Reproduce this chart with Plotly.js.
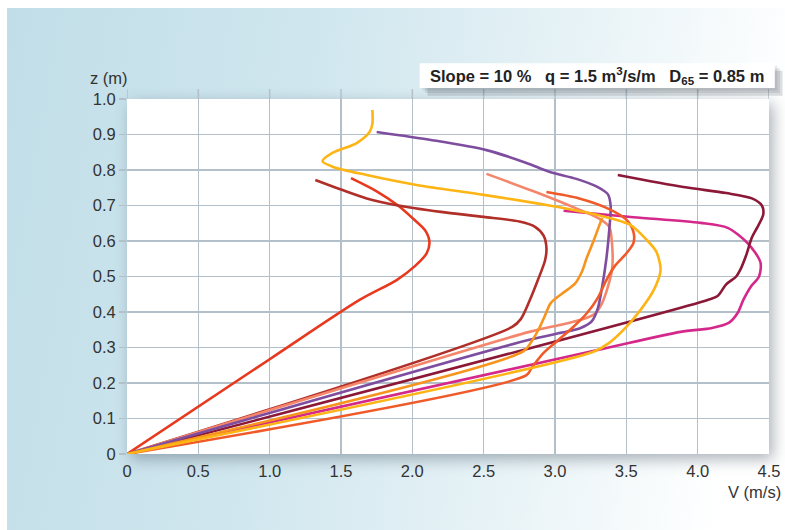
<!DOCTYPE html>
<html>
<head>
<meta charset="utf-8">
<script src="https://cdn.plot.ly/plotly-3.0.1.min.js"></script>
<style>
  html, body { margin:0; padding:0; background:#ffffff; }
  #bg { position:absolute; left:7px; top:8px; width:778px; height:522px;
        background: linear-gradient(100deg, #c1dee8 0%, #cfe6ee 35%, #e6f2f6 65%, #ffffff 92%); }
  #shadow { position:absolute; left:127px; top:99px; width:642px; height:355px;
            background:#ffffff; box-shadow: 4px 5px 14px rgba(70,85,100,0.45); }
  #chart { position:absolute; left:0; top:0; width:785px; height:530px; }
</style>
</head>
<body>
<div id="bg"></div>
<div id="shadow"></div>
<div id="chart"></div>
<script>
// ---- data (V in m/s, z in m) ----
const redV   = [0, 1.0, 1.63, 1.89, 2.02, 2.10, 2.12, 2.09, 2.0, 1.9, 1.75, 1.57];
const redZ   = [0, 0.267, 0.434, 0.49, 0.53, 0.565, 0.597, 0.63, 0.665, 0.70, 0.74, 0.777];

const brownV = [0, 2.70, 2.76, 2.82, 2.88, 2.93, 2.94, 2.92, 2.86, 2.75, 2.5, 2.2, 1.9, 1.68, 1.5, 1.32];
const brownZ = [0, 0.358, 0.38, 0.43, 0.49, 0.545, 0.58, 0.615, 0.64, 0.655, 0.668, 0.682, 0.70, 0.72, 0.745, 0.772];

const salmonV = [0, 2.82, 3.05, 3.2, 3.28, 3.33, 3.37, 3.40, 3.40, 3.38, 3.30, 3.10, 2.85, 2.52];
const salmonZ = [0, 0.344, 0.365, 0.38, 0.395, 0.425, 0.47, 0.52, 0.59, 0.64, 0.665, 0.70, 0.74, 0.789];

const purpleV = [0, 2.82, 3.05, 3.18, 3.26, 3.30, 3.33, 3.36, 3.38, 3.39, 3.37, 3.30, 3.15, 2.96, 2.80, 2.52, 2.14, 1.75];
const purpleZ = [0, 0.322, 0.342, 0.355, 0.375, 0.41, 0.47, 0.55, 0.63, 0.70, 0.732, 0.752, 0.775, 0.795, 0.82, 0.856, 0.884, 0.907];

const orangeV = [0, 2.78, 2.84, 2.89, 2.93, 2.97, 3.05, 3.14, 3.19, 3.22, 3.27, 3.33];
const orangeZ = [0, 0.29, 0.32, 0.355, 0.39, 0.425, 0.452, 0.48, 0.515, 0.55, 0.60, 0.665];

const redOrangeV = [0, 2.80, 2.84, 2.92, 3.02, 3.12, 3.22, 3.30, 3.36, 3.42, 3.50, 3.55, 3.55, 3.50, 3.38, 3.17, 2.94];
const redOrangeZ = [0, 0.222, 0.245, 0.285, 0.32, 0.355, 0.395, 0.44, 0.49, 0.53, 0.565, 0.595, 0.625, 0.66, 0.69, 0.72, 0.738];

const maroonV = [0, 4.07, 4.14, 4.20, 4.27, 4.30, 4.34, 4.38, 4.42, 4.46, 4.45, 4.38, 4.2, 3.9, 3.44];
const maroonZ = [0, 0.434, 0.445, 0.478, 0.50, 0.52, 0.56, 0.61, 0.64, 0.675, 0.70, 0.72, 0.735, 0.752, 0.786];

const magentaV = [0, 3.29, 3.88, 4.1, 4.22, 4.28, 4.32, 4.37, 4.43, 4.44, 4.35, 4.21, 4.02, 3.55, 3.06];
const magentaZ = [0, 0.292, 0.344, 0.355, 0.37, 0.397, 0.434, 0.47, 0.50, 0.54, 0.594, 0.637, 0.651, 0.667, 0.685];

const yellowV = [0, 3.27, 3.38, 3.5, 3.6, 3.69, 3.74, 3.71, 3.65, 3.53, 3.3, 2.96, 2.5, 2.03, 1.68, 1.45, 1.37, 1.44, 1.61, 1.70, 1.72, 1.72];
const yellowZ = [0, 0.288, 0.313, 0.358, 0.406, 0.46, 0.518, 0.57, 0.60, 0.645, 0.673, 0.70, 0.73, 0.758, 0.786, 0.808, 0.825, 0.848, 0.876, 0.907, 0.93, 0.969];

const xTickVals = [0, 0.5, 1, 1.5, 2, 2.5, 3, 3.5, 4, 4.5];
const xTickText = ['0', '0.5', '1.0', '1.5', '2.0', '2.5', '3.0', '3.5', '4.0', '4.5'];
const yTickVals = [0, 0.1, 0.2, 0.3, 0.4, 0.5, 0.6, 0.7, 0.8, 0.9, 1.0];
const yTickText = ['0', '0.1', '0.2', '0.3', '0.4', '0.5', '0.6', '0.7', '0.8', '0.9', '1.0'];

const series = [
  {x: magentaV,   y: magentaZ,   c: '#d4288a'},
  {x: maroonV,    y: maroonZ,    c: '#8c1838'},
  {x: redV,       y: redZ,       c: '#e8391f'},
  {x: brownV,     y: brownZ,     c: '#b02f28'},
  {x: salmonV,    y: salmonZ,    c: '#f4876b'},
  {x: purpleV,    y: purpleZ,    c: '#7e4d9f'},
  {x: orangeV,    y: orangeZ,    c: '#f7941e'},
  {x: redOrangeV, y: redOrangeZ, c: '#f05a28'},
  {x: yellowV,    y: yellowZ,    c: '#fdb515'}
];

const traces = series.map(s => ({
  type: 'scatter', mode: 'lines', x: s.x, y: s.y,
  line: {color: s.c, width: 2.6, shape: 'spline', smoothing: 0.8},
  hoverinfo: 'skip', showlegend: false
}));

const gridColor = '#b3c0c9';
const fam = 'Liberation Sans, Arial, Helvetica, sans-serif';
const font = {family: fam, size: 16.5, color: '#333333'};

const shapes = xTickVals.map(v => ({
  type: 'line', xref: 'x', yref: 'paper', x0: v, x1: v, y0: 1, y1: 1.028,
  line: {color: gridColor, width: 1.5}, layer: 'below'
}));
// title box shadow
[[0.012, 0.35], [0.008, 0.25], [0.004, 0.2]].forEach(d => {
  shapes.push({type: 'rect', xref: 'paper', yref: 'paper',
    x0: 0.456 + d[0], x1: 1.009 + d[0], y0: 1.031 - d[0]*1.8, y1: 1.101 - d[0]*1.8,
    fillcolor: 'rgba(60,70,80,' + (d[1]*0.5) + ')', line: {width: 0}});
});
shapes.push({type: 'rect', xref: 'paper', yref: 'paper', x0: 0.456, x1: 1.009, y0: 1.031, y1: 1.101,
  fillcolor: '#ffffff', line: {width: 0}});

const layout = {
  width: 785, height: 530,
  margin: {l: 127, r: 16, t: 99, b: 76},
  paper_bgcolor: 'rgba(0,0,0,0)',
  plot_bgcolor: '#ffffff',
  font: font,
  xaxis: {
    range: [0, 4.5], tickvals: xTickVals, ticktext: xTickText,
    showgrid: true, gridcolor: gridColor, gridwidth: 1.5,
    zeroline: false, showline: false, ticks: '', ticklabelstandoff: 5,
    tickfont: font, fixedrange: true
  },
  yaxis: {
    range: [0, 1.0], tickvals: yTickVals, ticktext: yTickText,
    showgrid: true, gridcolor: gridColor, gridwidth: 1.5,
    zeroline: false, showline: false, ticks: 'outside', ticklen: 7, tickcolor: gridColor, tickwidth: 1.5,
    tickfont: font, fixedrange: true
  },
  shapes: shapes,
  annotations: [
    {text: 'z (m)', xref: 'paper', yref: 'paper', x: -0.06, y: 1.059, xanchor: 'left', yanchor: 'middle',
     showarrow: false, font: font},
    {text: 'V (m/s)', xref: 'paper', yref: 'paper', x: 1.022, y: -0.107, xanchor: 'right', yanchor: 'middle',
     showarrow: false, font: font},
    {text: 'Slope = 10 %   q = 1.5 m<sup>3</sup>/s/m   D<sub>65</sub> = 0.85 m', xref: 'paper', yref: 'paper',
     x: 0.7325, y: 1.066, xanchor: 'center', yanchor: 'middle', showarrow: false,
     font: {family: fam, size: 16.5, color: '#222222', weight: 'bold'}}
  ]
};

Plotly.newPlot('chart', traces, layout, {displayModeBar: false, staticPlot: true});
</script>
</body>
</html>
